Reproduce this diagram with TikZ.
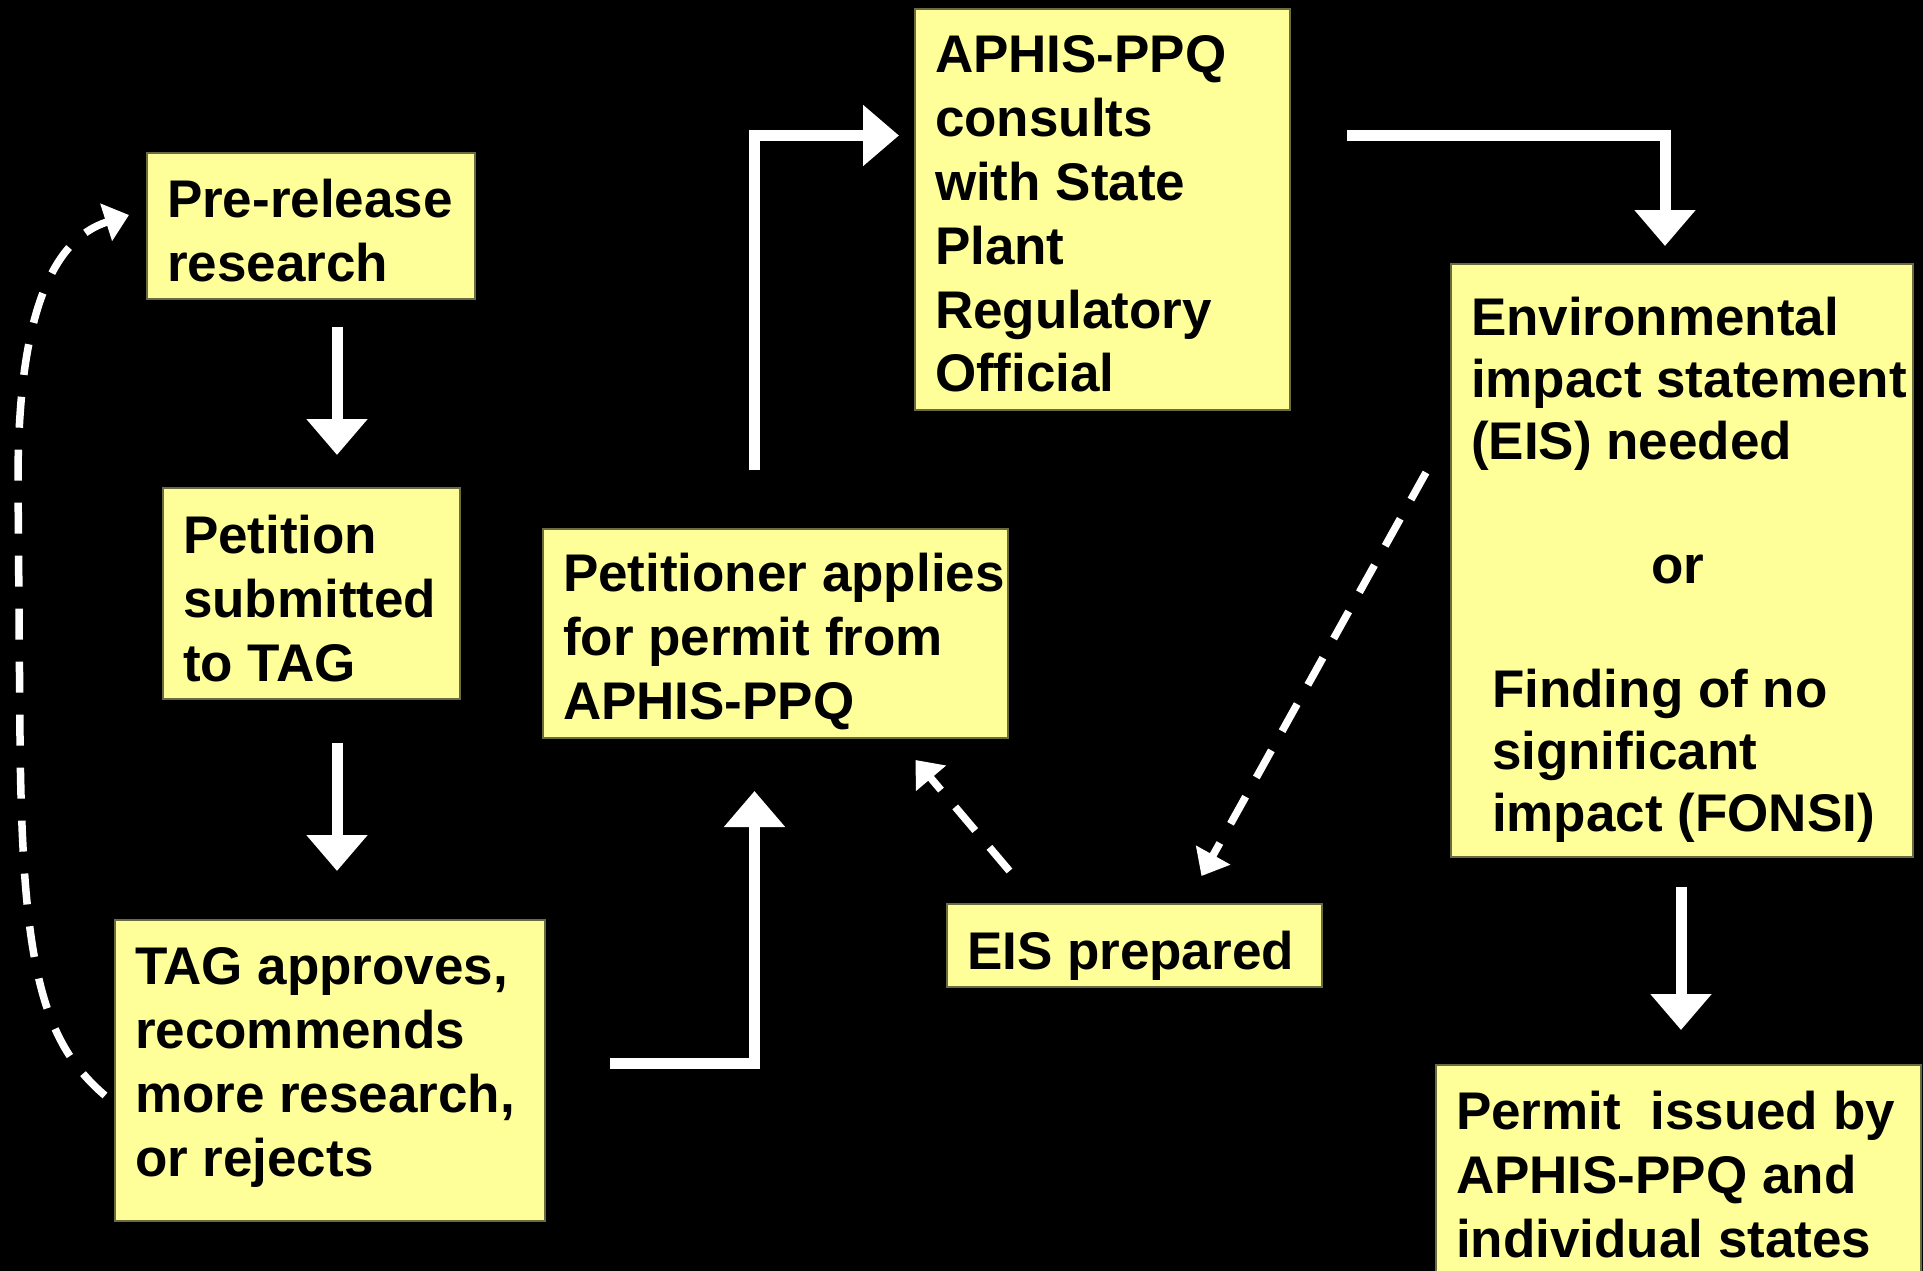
\documentclass[tikz,border=0pt]{standalone}
\usepackage{fontspec}
\setmainfont{Liberation Sans}
\usetikzlibrary{arrows.meta}
\definecolor{boxyellow}{HTML}{FFFF99}
\definecolor{boxedge}{HTML}{6B6B40}
\newcommand\bx[4]{\parbox[c][#2pt][t]{#1pt}{\rule{0pt}{#3pt}#4}}
\begin{document}
\begin{tikzpicture}[x=1pt,y=-1pt,
  box/.style={anchor=north west, fill=boxyellow, draw=boxedge, line width=1.5pt,
    inner xsep=20pt, inner ysep=0pt, outer sep=0pt,
    font=\fontsize{53}{64}\bfseries\selectfont},
  sarrow/.style={draw=white, line width=11pt, line join=miter,
    -{Triangle[width=59pt,length=36pt]}},
  darrow/.style={draw=white, line width=7.5pt, dash pattern=on 31pt off 22pt,
    -{Triangle[width=38pt,length=24pt]}}]
\fill[black] (0,0) rectangle (1923,1271);
\useasboundingbox (0,0) rectangle (1923,1271);
\begin{scope}
\clip (0,0) rectangle (1923,1271);

\node[box] (pre) at (147,153) {\bx{288}{146}{64}{\mbox{Pre-release}\\\mbox{research}}};
\node[box] (pet) at (163,488) {\bx{257}{211}{65}{\mbox{Petition}\\\mbox{submitted}\\\mbox{to TAG}}};
\node[box] (tag) at (115,920) {\bx{390}{301}{64}{\mbox{TAG approves,}\\\mbox{recommends}\\\mbox{more research,}\\\mbox{or rejects}}};
\node[box] (app) at (543,529) {\bx{425}{209}{62}{\mbox{Petitioner applies}\\\mbox{for permit from}\\\mbox{APHIS-PPQ}}};
\node[box] (con) at (915,9) {\bx{335}{401}{63}{\mbox{APHIS-PPQ}\\\mbox{consults}\\\mbox{with State}\\\mbox{Plant}\\\mbox{Regulatory}\\\mbox{Official}}};
\node[box] (eis) at (1451,264) {\fontsize{53}{62}\selectfont\bx{422}{593}{71}{\mbox{Environmental}\\\mbox{impact statement}\\\mbox{(EIS) needed}\\\mbox{}\\\hspace*{180pt}\mbox{or}\\\mbox{}\\\hspace*{21pt}\mbox{Finding of no}\\\hspace*{21pt}\mbox{significant}\\\hspace*{21pt}\mbox{impact (FONSI)}}};
\node[box] (prep) at (947,904) {\bx{335}{83}{65}{\mbox{EIS prepared}}};
\node[box] (perm) at (1436,1065) {\bx{445}{260}{64}{\mbox{Permit\ \ issued by}\\\mbox{APHIS-PPQ and}\\\mbox{individual states}}};

% solid connectors
\draw[sarrow] ([shift={(26,28)}]pre.south) -- ([shift={(25.5,-33)}]pet.north);
\draw[sarrow] ([shift={(25.5,44)}]pet.south) -- ([shift={(7,-49)}]tag.north);
\draw[sarrow] ([shift={(65,-7)}]tag.east) -| ([shift={(-21,53)}]app.south);
\draw[sarrow] ([shift={(-21,-59)}]app.north) |- ([shift={(-16,-74)}]con.west);
\draw[sarrow] ([shift={(57,-74)}]con.east) -| ([shift={(-17,-18)}]eis.north);
\draw[sarrow] ([shift={(-1,30)}]eis.south) -- ([shift={(2.5,-35)}]perm.north);

% dashed connectors
\draw[darrow] ([shift={(-25,-88)}]eis.west) -- ([shift={(67,-28)}]prep.north);
\draw[darrow] ([shift={(-125,-33)}]prep.north) -- ([shift={(140,22)}]app.south);
\draw[darrow] ([shift={(-10,25)}]tag.west) .. controls (40,1040) and (22,960) .. (20,736)
  -- (18,480) .. controls (18,320) and (50,240) .. ([shift={(-18,-11)}]pre.west);
\end{scope}
\end{tikzpicture}
\end{document}
